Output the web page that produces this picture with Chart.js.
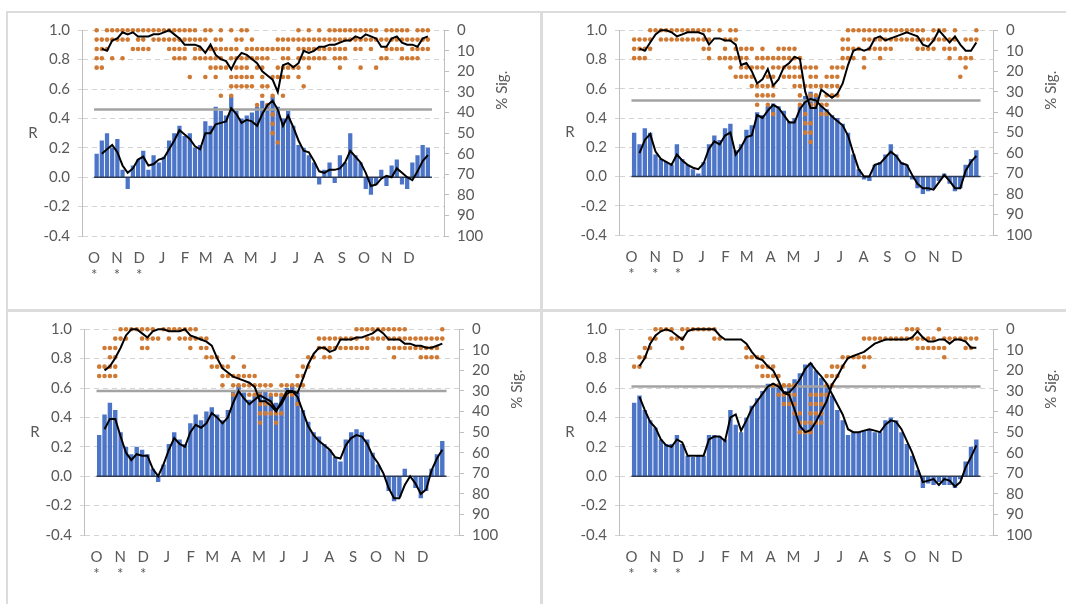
<!DOCTYPE html>
<html>
<head>
<meta charset="utf-8">
<script src="https://cdn.jsdelivr.net/npm/chart.js@4.4.1/dist/chart.umd.min.js"></script>
<style>
  body { margin: 0; background: #fff; }
  #page { position: relative; width: 1066px; height: 604px; overflow: hidden; }
  canvas { position: absolute; }
  .rule { position: absolute; background: #dcdcdc; z-index: 2; }
</style>
</head>
<body>
<div id="page">
  <canvas id="c1"></canvas>
  <canvas id="c2"></canvas>
  <canvas id="c3"></canvas>
  <canvas id="c4"></canvas>
  <div class="rule" style="left:7px;top:11px;width:1059px;height:2px"></div>
  <div class="rule" style="left:6px;top:11px;width:2px;height:593px"></div>
  <div class="rule" style="left:540px;top:11px;width:3px;height:593px"></div>
  <div class="rule" style="left:7px;top:309px;width:1059px;height:3px"></div>
</div>
<script>
// axis labels
const months = ["O", "N", "D", "J", "F", "M", "A", "M", "J", "J", "A", "S", "O", "N", "D"];
const monthStartDays = [0, 31, 61, 92, 123, 151, 182, 212, 243, 273, 304, 335, 365, 396, 426];
const starredMonths = 3;
const dayEnd = 457;
const stationShare = 100 / 22;   // one station = 4.5 % sig.

// panel 1 (top left)
const rBars1 = [0.16,0.25,0.30,0.20,0.26,0.05,-0.08,0.08,0.12,0.18, 0.05,0.15,0.10,0.14,0.25,0.30,0.35,0.28,0.30,0.20,
  0.22,0.38,0.35,0.48,0.45,0.42,0.55,0.45,0.40,0.42, 0.44,0.48,0.52,0.50,0.55,0.48,0.40,0.45,0.35,0.22,
  0.20,0.15,0.10,-0.05,0.05,0.10,-0.04,0.15,0.10,0.30, 0.15,0.10,-0.08,-0.12,-0.05,0.05,-0.06,0.08,0.12,-0.05,
  -0.08,0.10,0.15,0.22,0.20];
const rMean1 = [null,0.16,0.19,0.22,0.17,0.08,0.03,0.06,0.12,0.14, 0.08,0.09,0.12,0.13,0.19,0.25,0.32,0.29,0.26,0.21,
  0.19,0.30,0.30,0.36,0.37,0.38,0.47,0.43,0.37,0.39, 0.38,0.35,0.43,0.49,0.52,0.46,0.35,0.42,0.34,0.25,
  0.18,0.17,0.11,0.04,0.03,0.05,0.05,0.06,0.10,0.18, 0.14,0.10,0.03,-0.06,-0.05,-0.01,0.01,0.00,0.06,0.03,
  0.00,-0.02,0.04,0.11,0.15];
const sigLine1 = [null,9,10,5,4,1,2,1,3,3, 3,2,2,1,0,2,4,7,7,7, 8,11,7,12,14,15,19,14,11,12,
  14,16,20,22,24,30,17,16,18,16, 10,11,10,8,8,7,7,6,5,5, 3,4,2,3,4,8,8,4,3,6, 7,7,8,4,3];
// weeks with a dot, one list per number of significant stations
const sigDots1 = [
  [0,2,3,4,5,6,7,8,9,10,11,12,13,14,15,16,17,18,19,21,22,24,26,28,29,39,41,43,45,46,47,48,49,50,51,52,53,54,56,57,58,59,60,62,63,64],
  [0,1,2,3,4,5,6,8,9,11,12,13,14,15,16,17,18,19,20,21,23,24,27,28,30,35,36,37,38,39,40,41,42,43,44,45,46,47,48,49,50,51,52,53,54,55,56,57,58,59,60,61,62,63,64],
  [0,1,2,7,8,9,10,14,15,16,17,19,20,22,23,24,25,26,27,29,30,31,32,33,34,35,36,37,39,40,41,42,43,44,45,46,47,48,50,51,53,56,57,58,59,61,62,63,64],
  [0,1,3,5,15,16,17,19,20,21,22,23,24,26,27,28,29,30,31,32,33,36,37,39,40,41,42,43,44,46,47,48,55,56,59,60,61,62],
  [0,1,22,23,24,25,27,28,29,31,32,35,36,37,38,39,41,47,51,54],
  [18,21,23,26,27,28,29,30,32,34,35,36,37,39],
  [26,27,28,29,30,32,33,40],
  [24,26,32,34,36],
  [31,33],
  [34],
  [34],
  [34],
  [35]
];
const threshold1 = 0.46;

// panel 2 (top right)
const rBars2 = [0.30,0.22,0.33,0.30,0.15,0.12,0.10,0.08,0.22,0.12, 0.08,0.05,0.02,0.10,0.22,0.28,0.25,0.33,0.36,0.18,
  0.22,0.32,0.35,0.44,0.42,0.48,0.50,0.48,0.45,0.38, 0.40,0.48,0.55,0.58,0.55,0.50,0.46,0.42,0.40,0.36,
  0.30,0.15,0.05,-0.02,-0.03,0.08,0.10,0.15,0.22,0.15, 0.10,0.08,-0.02,-0.08,-0.12,-0.10,-0.08,-0.03,0.02,-0.05,
  -0.10,-0.08,0.08,0.12,0.18];
const rMean2 = [null,0.16,0.25,0.29,0.17,0.12,0.10,0.08,0.15,0.11, 0.08,0.06,0.05,0.09,0.19,0.24,0.22,0.28,0.30,0.15,
  0.20,0.27,0.28,0.42,0.40,0.45,0.49,0.47,0.42,0.37, 0.37,0.46,0.51,0.53,0.52,0.48,0.45,0.41,0.38,0.35,
  0.28,0.16,0.05,0.00,0.00,0.08,0.09,0.13,0.17,0.14, 0.09,0.08,0.01,-0.05,-0.08,-0.08,-0.09,-0.04,0.01,-0.03,
  -0.08,-0.08,0.04,0.10,0.14];
const sigLine2 = [null,9,10,6,2,0,0,1,3,2, 1,1,1,2,7,4,4,5,5,7, 17,16,20,26,24,19,27,24,18,16,
  13,14,30,38,38,29,31,33,31,26, 17,10,9,10,9,4,3,5,4,3, 2,1,2,3,7,8,5,0,3,6, 3,7,10,10,6];
const sigDots2 = [
  [3,4,5,6,7,8,9,10,11,12,13,14,16,18,19,40,41,42,43,44,45,46,47,48,49,50,51,52,53,54,56,57,58,60,64],
  [0,1,2,3,5,6,7,8,9,10,11,12,13,14,17,18,19,39,40,43,44,45,46,47,48,49,50,51,52,53,54,55,56,57,58,59,60,62,63,64],
  [0,1,2,3,13,14,17,19,20,21,22,24,27,28,29,30,39,40,41,42,44,45,46,47,48,53,54,55,56,58,59,60],
  [0,1,2,14,16,17,18,19,20,21,23,24,25,26,27,28,29,30,31,39,40,41,43,46,59,61,62,63],
  [18,20,21,22,23,24,26,27,28,29,30,31,32,33,34,37,38,39,43,62],
  [19,20,21,22,25,26,28,29,30,31,33,34,36,37,38,61],
  [22,23,24,25,26,30,31,32,33,34,35,36,37,38],
  [23,24,25,26,31,33,34,36,37,38],
  [23,25,31,33,34,35,36],
  [26,32,35,36],
  [32,33],
  [32,33],
  [33]
];
const threshold2 = 0.52;

// panel 3 (bottom left)
const rBars3 = [0.28,0.42,0.50,0.45,0.30,0.20,0.15,0.20,0.18,0.15, 0.05,-0.04,0.08,0.22,0.30,0.25,0.22,0.36,0.42,0.38,
  0.44,0.47,0.42,0.38,0.45,0.58,0.62,0.57,0.52,0.55, 0.58,0.58,0.55,0.50,0.55,0.60,0.62,0.57,0.45,0.37,
  0.30,0.27,0.22,0.18,0.13,0.10,0.25,0.30,0.32,0.30, 0.25,0.16,0.08,0.00,-0.10,-0.17,-0.14,0.05,0.00,-0.08,
  -0.15,-0.10,0.05,0.15,0.24];
const rMean3 = [null,0.32,0.39,0.39,0.27,0.16,0.11,0.15,0.14,0.14, 0.05,0.00,0.08,0.18,0.26,0.22,0.20,0.30,0.35,0.33,
  0.36,0.43,0.40,0.36,0.40,0.50,0.58,0.53,0.49,0.52, 0.55,0.53,0.51,0.45,0.49,0.56,0.58,0.54,0.44,0.34,
  0.28,0.24,0.21,0.18,0.13,0.12,0.21,0.26,0.28,0.27, 0.22,0.14,0.09,0.02,-0.08,-0.15,-0.15,-0.06,0.00,-0.05,
  -0.12,-0.09,0.04,0.12,0.18];
const sigLine3 = [null,20,18,14,9,3,0,0,2,4, 1,0,0,1,1,1,0,3,4,5, 6,8,14,19,21,23,24,25,26,28,
  35,35,37,40,35,30,30,31,24,17, 12,9,9,11,10,5,5,5,4,4, 3,2,0,2,5,5,5,7,7,8, 8,9,9,8,7];
const sigDots3 = [
  [4,5,6,7,8,9,10,12,13,14,15,16,17,18,48,49,50,51,52,53,54,55,56,57,64],
  [3,4,5,8,9,10,11,13,15,16,17,18,19,20,41,42,43,44,45,46,47,48,50,51,52,53,54,55,56,57,58,59,60,61,62,63,64],
  [1,2,3,8,9,17,19,20,41,42,43,44,45,46,47,48,49,50,54,55,56,57,58,59,60,61,62,63],
  [2,3,20,21,22,25,39,40,42,43,55,60,61,62,63],
  [0,1,2,3,21,22,23,24,27,38,39],
  [0,1,2,3,23,24,25,26,27,28,29,37,38],
  [23,25,26,27,28,29,30,31,32,34,35,36,37,38],
  [25,28,29,30,32,33,34,35,36],
  [30,31,32,37],
  [30,31,32,33,34],
  [30,33]
];
const threshold3 = 0.58;

// panel 4 (bottom right)
const rBars4 = [0.50,0.55,0.45,0.38,0.33,0.25,0.22,0.22,0.28,0.22, 0.14,0.13,0.14,0.14,0.28,0.28,0.27,0.25,0.45,0.35,
  0.30,0.40,0.48,0.53,0.58,0.63,0.63,0.60,0.58,0.60, 0.66,0.70,0.76,0.77,0.72,0.67,0.62,0.55,0.45,0.38,
  0.28,0.30,0.30,0.31,0.32,0.30,0.30,0.38,0.40,0.38, 0.30,0.22,0.14,0.04,-0.08,-0.05,-0.06,-0.04,-0.06,-0.06,
  -0.08,-0.02,0.10,0.20,0.25];
const rMean4 = [null,0.54,0.45,0.37,0.33,0.25,0.21,0.20,0.25,0.23, 0.14,0.14,0.14,0.14,0.25,0.27,0.27,0.24,0.40,0.42,
  0.31,0.38,0.46,0.51,0.56,0.61,0.63,0.61,0.57,0.57, 0.61,0.66,0.73,0.77,0.72,0.68,0.63,0.56,0.49,0.42,
  0.32,0.30,0.30,0.31,0.32,0.31,0.30,0.35,0.38,0.37, 0.32,0.24,0.16,0.06,-0.04,-0.03,-0.02,-0.06,-0.02,-0.03,
  -0.07,-0.04,0.06,0.13,0.21];
const sigLine4 = [null,18,14,7,3,1,0,1,3,5, 1,0,0,0,0,0,3,5,5,5, 5,7,11,14,15,18,20,25,31,32,
  39,47,50,49,45,40,35,27,23,18, 14,13,12,11,9,7,6,5,5,5, 5,5,4,1,4,6,6,5,5,7, 5,5,6,9,9];
const sigDots4 = [
  [4,5,6,7,9,10,11,12,13,14,15,51,52,53,57],
  [3,4,7,8,9,15,16,43,44,45,46,47,48,49,50,51,52,53,54,55,56,58,59,60,61,62,63,64],
  [2,3,9,21,53,54,55,56,57,58,62,63],
  [1,2,21,22,23,24,39,40,41,42,43,44,58],
  [0,1,23,24,25,26,37,38,39,43],
  [24,25,26,27,36,37,38],
  [26,27,28,29,30,36,37],
  [27,28,29,30,33,34,35,36],
  [28,29,30,33,34,35],
  [30,31,33,34,35],
  [31,32,33,34,35],
  [31,32,33]
];
const threshold4 = 0.61;

const textGrey = "#595959";
const tickFont = { family: "Lato", size: 15, lineHeight: 1.1 };

const weekDay = w => w * 7 + 3.5;
const series = vals => vals.map((v, w) => ({ x: weekDay(w), y: v }));

function dotPoints(dots) {
  const pts = [];
  dots.forEach((weeks, n) => weeks.forEach(w => pts.push({ x: weekDay(w), y: n * stationShare })));
  return pts;
}

// "R" upright on the left, "% Sig." turned on the right
const axisNames = {
  id: "axisNames",
  afterDraw(chart) {
    const { ctx, chartArea } = chart;
    ctx.save();
    ctx.fillStyle = textGrey;
    ctx.font = "15px Lato";
    ctx.textAlign = "center";
    ctx.textBaseline = "middle";
    ctx.fillText("R", chartArea.left - 49, (chartArea.top + chartArea.bottom) / 2);
    ctx.translate(chartArea.right + 58, chartArea.top + 60);
    ctx.rotate(-Math.PI / 2);
    ctx.fillText("% Sig.", 0, 0);
    ctx.restore();
  }
};

function drawPanel(id, bars, mean, sig, dots, threshold, box) {
  const cv = document.getElementById(id);
  cv.width = box.width;
  cv.height = box.height;
  cv.style.left = box.left + "px";
  cv.style.top = box.top + "px";

  new Chart(cv, {
    type: "bar",
    data: {
      datasets: [
        { type: "line", data: series(mean), yAxisID: "y", borderColor: "#000", borderWidth: 2,
          pointRadius: 0, order: 0, clip: false },
        { type: "line", data: series(sig), yAxisID: "y2", borderColor: "#000", borderWidth: 2,
          pointRadius: 0, order: 0, clip: false },
        { type: "line", data: dotPoints(dots), yAxisID: "y2", showLine: false, pointRadius: 2.3,
          pointBackgroundColor: "#cf7a34", pointBorderWidth: 0, order: 1, clip: false },
        { type: "line", data: [{ x: 0, y: threshold }, { x: dayEnd, y: threshold }], yAxisID: "y",
          borderColor: "#a3a3a3", borderWidth: 2.5, pointRadius: 0, order: 2 },
        { type: "line", data: [{ x: 0, y: 0 }, { x: dayEnd, y: 0 }], yAxisID: "y",
          borderColor: "#2e3b55", borderWidth: 1.4, pointRadius: 0, order: 2 },
        { type: "bar", data: series(bars), yAxisID: "y", backgroundColor: "#4c74c7",
          barPercentage: 0.82, categoryPercentage: 1, order: 3 }
      ]
    },
    options: {
      responsive: false,
      animation: false,
      devicePixelRatio: 1,
      layout: { padding: { top: box.padTop, left: 0, right: 0, bottom: 0 } },
      plugins: { legend: { display: false }, tooltip: { enabled: false } },
      scales: {
        x: {
          type: "linear", min: 0, max: dayEnd,
          afterBuildTicks: s => { s.ticks = monthStartDays.map(v => ({ value: v })); },
          afterFit: s => { s.height = box.axisBottom; },
          ticks: {
            autoSkip: false, maxRotation: 0, padding: 14, color: textGrey, font: tickFont,
            callback: (v, i) => i < starredMonths ? [months[i], "*"] : months[i]
          },
          grid: { display: false, drawTicks: false },
          border: { display: false }
        },
        y: {
          position: "left", min: -0.4, max: 1.0,
          afterFit: s => { s.width = box.axisLeft; },
          ticks: {
            stepSize: 0.2, padding: 8, color: textGrey, font: tickFont,
            callback: v => (Math.abs(v) < 1e-9 ? 0 : v).toFixed(1)
          },
          grid: { color: "#d4d4d4", tickLength: 4 },
          border: { display: true, color: "#bfbfbf", dash: [5, 4] }
        },
        y2: {
          position: "right", reverse: true, min: 0, max: 100,
          afterFit: s => { s.width = box.axisRight; },
          ticks: { stepSize: 10, padding: 8, color: textGrey, font: tickFont },
          grid: { drawOnChartArea: false, color: "#bfbfbf", tickLength: 5 },
          border: { color: "#bfbfbf" }
        }
      }
    },
    plugins: [axisNames]
  });
}

drawPanel("c1", rBars1, rMean1, sigLine1, sigDots1, threshold1,
  { left: 8, top: 14, width: 532, height: 296, axisLeft: 74, axisRight: 96, axisBottom: 74, padTop: 14 });
drawPanel("c2", rBars2, rMean2, sigLine2, sigDots2, threshold2,
  { left: 544, top: 14, width: 522, height: 296, axisLeft: 75, axisRight: 73, axisBottom: 75, padTop: 14 });
drawPanel("c3", rBars3, rMean3, sigLine3, sigDots3, threshold3,
  { left: 8, top: 313, width: 532, height: 291, axisLeft: 76, axisRight: 81, axisBottom: 69, padTop: 15 });
drawPanel("c4", rBars4, rMean4, sigLine4, sigDots4, threshold4,
  { left: 544, top: 313, width: 522, height: 291, axisLeft: 75, axisRight: 73, axisBottom: 69, padTop: 15 });
</script>
</body>
</html>
